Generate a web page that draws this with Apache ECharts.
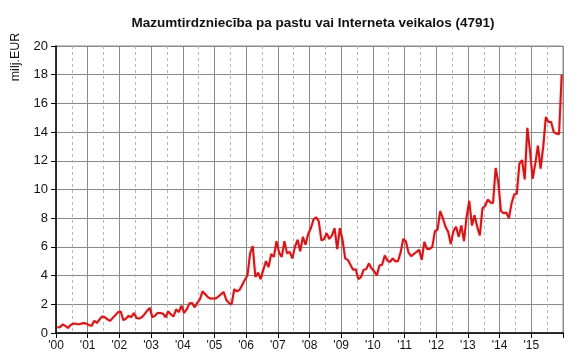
<!DOCTYPE html>
<html><head><meta charset="utf-8">
<script src="https://cdn.jsdelivr.net/npm/echarts@6/dist/echarts.min.js"></script>
<style>html,body{margin:0;padding:0;background:#fff}#c{width:579px;height:360px}</style>
</head><body><div id="c"></div>
<script>
const chartTitle = 'Mazumtirdzniecība pa pastu vai Interneta veikalos (4791)';
const unitName = 'milj.EUR';
const yearLabels = ["'00","'01","'02","'03","'04","'05","'06","'07","'08","'09","'10","'11","'12","'13","'14","'15"];
const yTicks = [0, 2, 4, 6, 8, 10, 12, 14, 16, 18, 20];

// monthly values, milj. EUR
const y2000 = [0.4, 0.4, 0.6, 0.5, 0.35, 0.55, 0.65, 0.65, 0.6, 0.65, 0.7, 0.65];
const y2001 = [0.55, 0.5, 0.85, 0.7, 0.95, 1.15, 1.1, 0.95, 0.85, 1.05, 1.25, 1.45];
const y2002 = [1.5, 0.9, 1.0, 1.2, 1.1, 1.4, 1.05, 1.0, 1.1, 1.3, 1.55, 1.75];
const y2003 = [1.1, 1.2, 1.4, 1.4, 1.35, 1.1, 1.5, 1.3, 1.15, 1.65, 1.45, 1.9];
const y2004 = [1.4, 1.65, 2.05, 2.1, 1.8, 2.1, 2.35, 2.9, 2.7, 2.5, 2.4, 2.4];
const y2005 = [2.4, 2.55, 2.7, 2.85, 2.3, 2.1, 2.0, 3.05, 2.9, 3.0, 3.35, 3.7];
const y2006 = [4.0, 5.55, 6.05, 3.9, 4.2, 3.75, 4.4, 5.0, 4.6, 5.5, 5.3, 6.4];
const y2007 = [5.6, 5.3, 6.4, 5.55, 5.65, 5.2, 6.0, 6.5, 5.7, 6.7, 6.15, 6.9];
const y2008 = [7.3, 7.9, 8.07, 7.8, 6.45, 6.55, 6.95, 6.55, 6.8, 7.3, 5.85, 7.3];
const y2009 = [6.5, 5.2, 5.1, 4.75, 4.4, 4.45, 3.75, 3.9, 4.4, 4.45, 4.85, 4.5];
const y2010 = [4.3, 4.0, 4.7, 4.75, 5.4, 5.05, 4.95, 5.2, 5.0, 5.0, 5.6, 6.55];
const y2011 = [6.4, 5.6, 5.35, 5.5, 5.65, 5.8, 5.1, 6.35, 5.85, 5.85, 6.0, 7.1];
const y2012 = [7.2, 8.5, 8.0, 7.4, 7.05, 6.2, 7.1, 7.4, 6.7, 7.5, 6.4, 8.1];
const y2013 = [9.2, 7.5, 8.2, 7.4, 6.8, 8.7, 8.85, 9.3, 9.1, 9.05, 11.5, 10.5];
const y2014 = [8.5, 8.35, 8.4, 8.0, 9.0, 9.65, 9.7, 11.8, 12.05, 10.7, 14.3, 12.7];
const y2015 = [10.75, 11.8, 13.05, 11.45, 12.95, 15.05, 14.7, 14.7, 14.0, 13.9, 13.85, 18.0];

const monthly = [].concat(y2000, y2001, y2002, y2003, y2004, y2005, y2006, y2007,
  y2008, y2009, y2010, y2011, y2012, y2013, y2014, y2015);
const points = monthly.map((v, i) => [i + 0.5, v]);

const font = '"Liberation Sans", Arial, sans-serif';
const chart = echarts.init(document.getElementById('c'), null, {renderer: 'canvas'});
chart.setOption({
  animation: false,
  backgroundColor: '#fff',
  title: {
    text: chartTitle, left: 308, top: 11, textAlign: 'center',
    textStyle: {fontFamily: font, fontSize: 13.5, fontWeight: 'bold', color: '#111'}
  },
  graphic: [{
    type: 'text', x: 16, y: 57, rotation: Math.PI / 2,
    style: {text: unitName, fontFamily: font, fontSize: 12.5, fill: '#111', align: 'center', verticalAlign: 'middle'}
  }],
  grid: {left: 56, right: 16, top: 46, bottom: 27, show: true, borderColor: '#8a8a8a', borderWidth: 1},
  xAxis: {
    type: 'value', min: 0, max: 192, interval: 12,
    axisLine: {show: true, onZero: false, lineStyle: {color: '#000', width: 1.5}},
    axisTick: {show: true, length: 5, lineStyle: {color: '#000'}},
    axisLabel: {
      fontFamily: font, fontSize: 12, color: '#111', margin: 7,
      formatter: v => (v / 12 < yearLabels.length ? yearLabels[v / 12] : '')
    },
    splitLine: {show: true, lineStyle: {color: '#8a8a8a', width: 1}},
    minorTick: {show: false, splitNumber: 2},
    minorSplitLine: {show: true, lineStyle: {color: '#b5b5b5', type: [3, 3], width: 1}}
  },
  yAxis: {
    type: 'value', min: yTicks[0], max: yTicks[yTicks.length - 1], interval: 2,
    axisLine: {show: true, lineStyle: {color: '#000', width: 1.5}},
    axisTick: {show: true, length: 5, lineStyle: {color: '#000'}},
    axisLabel: {fontFamily: font, fontSize: 13, color: '#111', margin: 8},
    splitLine: {show: true, lineStyle: {color: '#8a8a8a', width: 1}}
  },
  series: [{
    type: 'line', data: points, showSymbol: false, symbol: 'none',
    lineStyle: {color: '#d41518', width: 2, shadowColor: 'rgba(230,60,60,0.45)', shadowBlur: 2},
    z: 5
  }]
});
</script>
</body></html>
